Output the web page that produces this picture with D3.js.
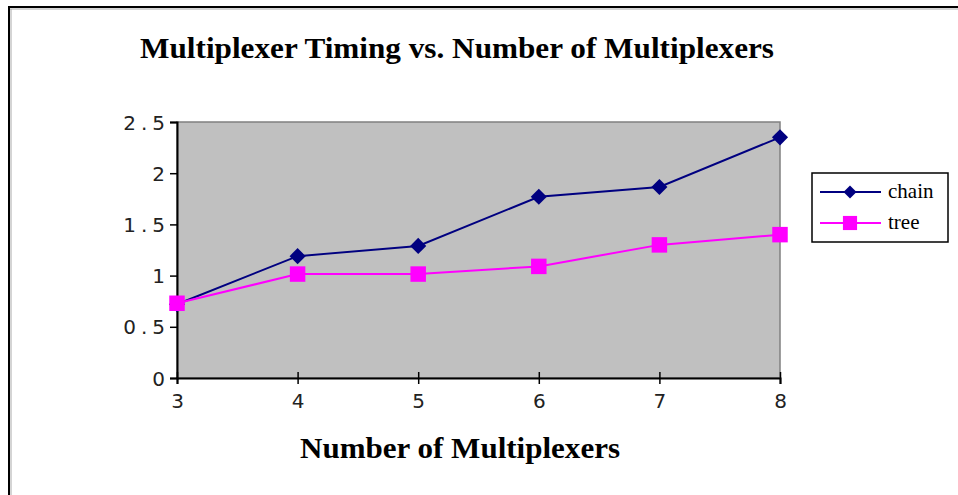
<!DOCTYPE html>
<html lang="en">
<head>
<meta charset="UTF-8">
<title>Multiplexer Timing vs. Number of Multiplexers</title>
<style>
  html, body { margin: 0; padding: 0; background: #fff; }
  svg { display: block; }
  .tick text { font-family: "DejaVu Sans", sans-serif; font-size: 20px; fill: #222; }
</style>
</head>
<body>
<div id="chart"></div>
<script src="https://d3js.org/d3.v7.min.js"></script>
<script>
// data
const muxCounts = [3, 4, 5, 6, 7, 8];
const chainTimes = [0.72, 1.19, 1.29, 1.77, 1.865, 2.35];
const treeTimes = [0.73, 1.015, 1.015, 1.09, 1.30, 1.40];
const yTicks = [0, 0.5, 1, 1.5, 2, 2.5];
const seriesNames = ["chain", "tree"];

const W = 958, H = 495;
const plot = {left: 177, right: 780, top: 122, bottom: 378};

const svg = d3.select("#chart").append("svg")
    .attr("width", W)
    .attr("height", H);

// outer frame (only top and left edges show)
svg.append("line").attr("x1", 8).attr("x2", W).attr("y1", 7).attr("y2", 7)
    .attr("stroke", "#000").attr("stroke-width", 2);
svg.append("line").attr("x1", 9).attr("x2", 9).attr("y1", 6).attr("y2", H)
    .attr("stroke", "#000").attr("stroke-width", 2);
svg.append("line").attr("x1", 10).attr("x2", W).attr("y1", 9).attr("y2", 9)
    .attr("stroke", "#aaa").attr("stroke-width", 1);
svg.append("line").attr("x1", 11).attr("x2", 11).attr("y1", 9).attr("y2", H)
    .attr("stroke", "#aaa").attr("stroke-width", 1);

const x = d3.scaleLinear().domain([3, 8]).range([plot.left, plot.right]);
const y = d3.scaleLinear().domain([0, 2.5]).range([plot.bottom, plot.top]);

// grey plot area
svg.append("rect")
    .attr("x", plot.left).attr("y", plot.top)
    .attr("width", plot.right - plot.left)
    .attr("height", plot.bottom - plot.top)
    .attr("fill", "#c0c0c0")
    .attr("stroke", "#808080")
    .attr("stroke-width", 1.5);

// y axis
const yAxis = svg.append("g")
    .attr("transform", `translate(${plot.left},0)`)
    .call(d3.axisLeft(y).tickValues(yTicks).tickSize(7).tickPadding(0)
        .tickFormat(d => d3.format("~g")(d)));
yAxis.select(".domain").attr("stroke", "#000").attr("stroke-width", 2);
yAxis.selectAll(".tick line").attr("stroke", "#000").attr("stroke-width", 1.5);
yAxis.selectAll(".tick text").attr("letter-spacing", "5px").attr("dy", "0.35em");

// x axis
const xAxis = svg.append("g")
    .attr("transform", `translate(0,${plot.bottom})`)
    .call(d3.axisBottom(x).tickValues(muxCounts).tickSize(6).tickPadding(10)
        .tickFormat(d3.format("d")));
xAxis.select(".domain").attr("stroke", "#000").attr("stroke-width", 2);
xAxis.selectAll(".tick line").attr("y1", -6).attr("stroke", "#000").attr("stroke-width", 1.5);

// title and axis label
svg.append("text")
    .attr("x", 457).attr("y", 58)
    .attr("text-anchor", "middle")
    .attr("font-family", "Liberation Serif, Times New Roman, serif")
    .attr("font-weight", "bold")
    .attr("font-size", 29)
    .attr("textLength", 634)
    .attr("lengthAdjust", "spacingAndGlyphs")
    .text("Multiplexer Timing vs. Number of Multiplexers");

svg.append("text")
    .attr("x", 460).attr("y", 458)
    .attr("text-anchor", "middle")
    .attr("font-family", "Liberation Serif, Times New Roman, serif")
    .attr("font-weight", "bold")
    .attr("font-size", 29)
    .attr("textLength", 320)
    .attr("lengthAdjust", "spacingAndGlyphs")
    .text("Number of Multiplexers");

// series
const series = [
  {name: seriesNames[0], values: chainTimes, color: "#000080", diamond: true},
  {name: seriesNames[1], values: treeTimes, color: "#ff00ff", diamond: false}
];

const line = d3.line()
    .x((d, i) => x(muxCounts[i]))
    .y(d => y(d));

series.forEach(s => {
  svg.append("path")
      .datum(s.values)
      .attr("fill", "none")
      .attr("stroke", s.color)
      .attr("stroke-width", 2)
      .attr("d", line);
});

// diamonds are squares turned 45 degrees
series.forEach(s => {
  const size = s.diamond ? 130 : 240;
  svg.append("g").selectAll("path")
      .data(s.values)
      .join("path")
      .attr("transform", (d, i) =>
          `translate(${x(muxCounts[i])},${y(d)})` + (s.diamond ? " rotate(45)" : ""))
      .attr("d", d3.symbol().type(d3.symbolSquare).size(size))
      .attr("fill", s.color);
});

// legend
const legend = svg.append("g").attr("transform", "translate(812,173)");
legend.append("rect")
    .attr("width", 136).attr("height", 69)
    .attr("fill", "#fff")
    .attr("stroke", "#000")
    .attr("stroke-width", 1.5);

series.forEach((s, i) => {
  const ly = 19 + i * 31;
  legend.append("line")
      .attr("x1", 8).attr("x2", 69)
      .attr("y1", ly).attr("y2", ly)
      .attr("stroke", s.color).attr("stroke-width", 2);
  const size = s.diamond ? 85 : 200;
  legend.append("path")
      .attr("transform", `translate(38,${ly})` + (s.diamond ? " rotate(45)" : ""))
      .attr("d", d3.symbol().type(d3.symbolSquare).size(size))
      .attr("fill", s.color);
  legend.append("text")
      .attr("x", 76).attr("y", ly + 6)
      .attr("font-family", "Liberation Serif, Times New Roman, serif")
      .attr("font-size", 21)
      .text(s.name);
});
</script>
</body>
</html>
